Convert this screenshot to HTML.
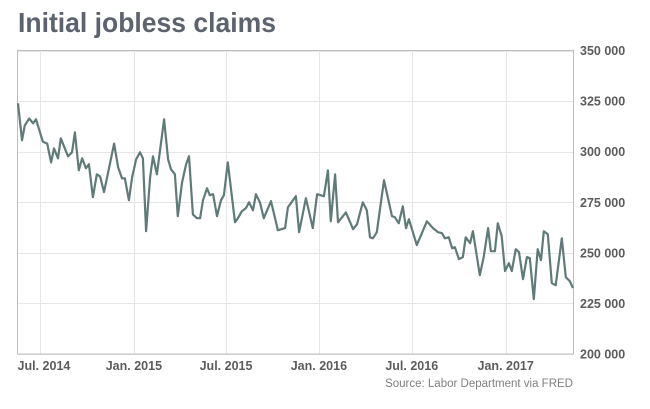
<!DOCTYPE html>
<html><head><meta charset="utf-8"><style>
html,body{margin:0;padding:0;background:#fff;}
svg{display:block;font-family:"Liberation Sans",sans-serif;}
</style></head><body>
<svg id="chart" width="650" height="409">
<text x="18" y="32" font-size="28" font-weight="bold" fill="#5c636e" textLength="258" lengthAdjust="spacingAndGlyphs">Initial jobless claims</text>
<g id="grid"></g>
<rect x="17.5" y="50.5" width="556" height="303.5" fill="none" stroke="#bdbdbd" stroke-width="1"/>
<g id="series"></g>
<g id="yaxis"></g>
<g id="xaxis"></g>
<text x="573" y="387" font-size="11.5" fill="#808080" text-anchor="end">Source: Labor Department via FRED</text>
</svg>
<script>
const weeks = [0,1.1,1.9,3.1,4.2,5,6.9,8.1,9.2,10,11.1,11.9,13.9,15,15.8,16.9,17.8,18.9,19.7,20.8,21.9,22.8,23.9,24.7,26.7,27.8,28.9,29.7,30.8,31.7,32.8,33.9,34.7,35.6,36.7,37.5,38.6,40.6,41.7,42.5,43.6,44.4,45.6,46.7,47.5,48.6,49.7,50.6,51.4,52.5,53.3,54.2,55.3,56.4,57.2,58.3,60.3,61.1,62.2,63.3,64.2,65.3,66.1,67.2,68.3,70.3,72.2,74.2,75,77.2,78.1,80,81.9,83.1,85,86.1,86.9,88.1,88.9,91.1,93.1,94.2,95.8,96.9,97.8,98.6,99.7,101.7,103.9,104.7,105.8,106.9,107.8,108.6,110.8,113.6,115.3,116.7,117.8,118.6,119.7,120.6,121.4,122.5,123.6,124.4,125.6,126.4,128.3,129.4,130.6,131.4,132.5,133.3,134.4,135.3,136.4,137.2,138.3,139.2,140.3,141.4,142.2,143.3,144.4,145.3,146.1,147.2,148.3,149.4,151.1,152.2,153.3,154.2];
const claims = [323900,305600,313000,316400,314000,316000,305000,304000,294700,301600,296700,306600,297700,299700,309500,290800,296700,291800,293800,277500,288800,287800,280000,286800,304000,292300,286800,286800,276000,287300,296200,299700,296700,260700,287300,297700,288800,316000,296200,291300,288800,268100,284900,293800,297700,269000,267100,267100,276000,281900,278500,279000,268100,276000,278500,294700,265100,267100,270600,272000,275000,271000,279000,275000,267100,275500,261200,262200,272500,278000,260200,277000,262200,279000,278000,290800,265600,288800,265100,270000,261700,264100,275000,271000,257700,257200,260200,285900,268100,267600,264600,273000,262200,266600,253800,265600,262200,260200,259700,257200,257700,252300,252800,246900,247900,257700,254800,260700,239000,247900,262200,250800,250800,264600,258200,241000,244900,241000,251800,250300,237000,247900,247400,227100,251800,246400,260700,259200,235000,234000,257200,238000,236000,232600];
const yTicks = [200000,225000,250000,275000,300000,325000,350000];
const yTickLabels = ["200 000","225 000","250 000","275 000","300 000","325 000","350 000"];
const xTickWeeks = [6.1,32.2,57.8,83.6,109.4,135.5];
const xTickLabels = ["Jul. 2014","Jan. 2015","Jul. 2015","Jan. 2016","Jul. 2016","Jan. 2017"];

const NS="http://www.w3.org/2000/svg";
const X0=18,X1=573,Y0=354,Y1=50.5;
function xs(w){return X0+(w-0)/(154.2)*(X1-X0);}
function ys(v){return Y0-(v-200000)/150000*(Y0-Y1);}
function mk(t,a,p){const e=document.createElementNS(NS,t);for(const k in a)e.setAttribute(k,a[k]);p.appendChild(e);return e;}
const grid=document.getElementById('grid'),ya=document.getElementById('yaxis'),xa=document.getElementById('xaxis'),se=document.getElementById('series');
yTicks.forEach((v,i)=>{
  const y=Math.round(ys(v))+0.5;
  const l=mk('line',{x1:18,x2:573,y1:y,y2:y,stroke:'#e6e6e6','stroke-width':1},grid);
  
  
  const t=mk('text',{x:580,y:ys(v)+4.5,'font-size':12.5,'font-weight':'bold',fill:'#5c5c5c'},ya);
  t.textContent=yTickLabels[i];
  
  
});
xTickWeeks.forEach((w,i)=>{
  const x=Math.round(xs(w))+0.5;
  const l=mk('line',{x1:x,x2:x,y1:51,y2:354,stroke:'#e6e6e6','stroke-width':1},grid);
  
  
  const t=mk('text',{x:xs(w)+(i==0?4:0),y:370,'font-size':12.5,'font-weight':'bold',fill:'#5c5c5c','text-anchor':'middle'},xa);
  t.textContent=xTickLabels[i];
  
  
});
const d=claims.map((v,i)=>(i?'L':'M')+xs(weeks[i]).toFixed(1)+' '+ys(v).toFixed(1)).join(' ');
const p=mk('path',{d:d,fill:'none',stroke:'#5e7b78','stroke-width':2.2,'stroke-linejoin':'round'},se);


</script>
</body></html>
